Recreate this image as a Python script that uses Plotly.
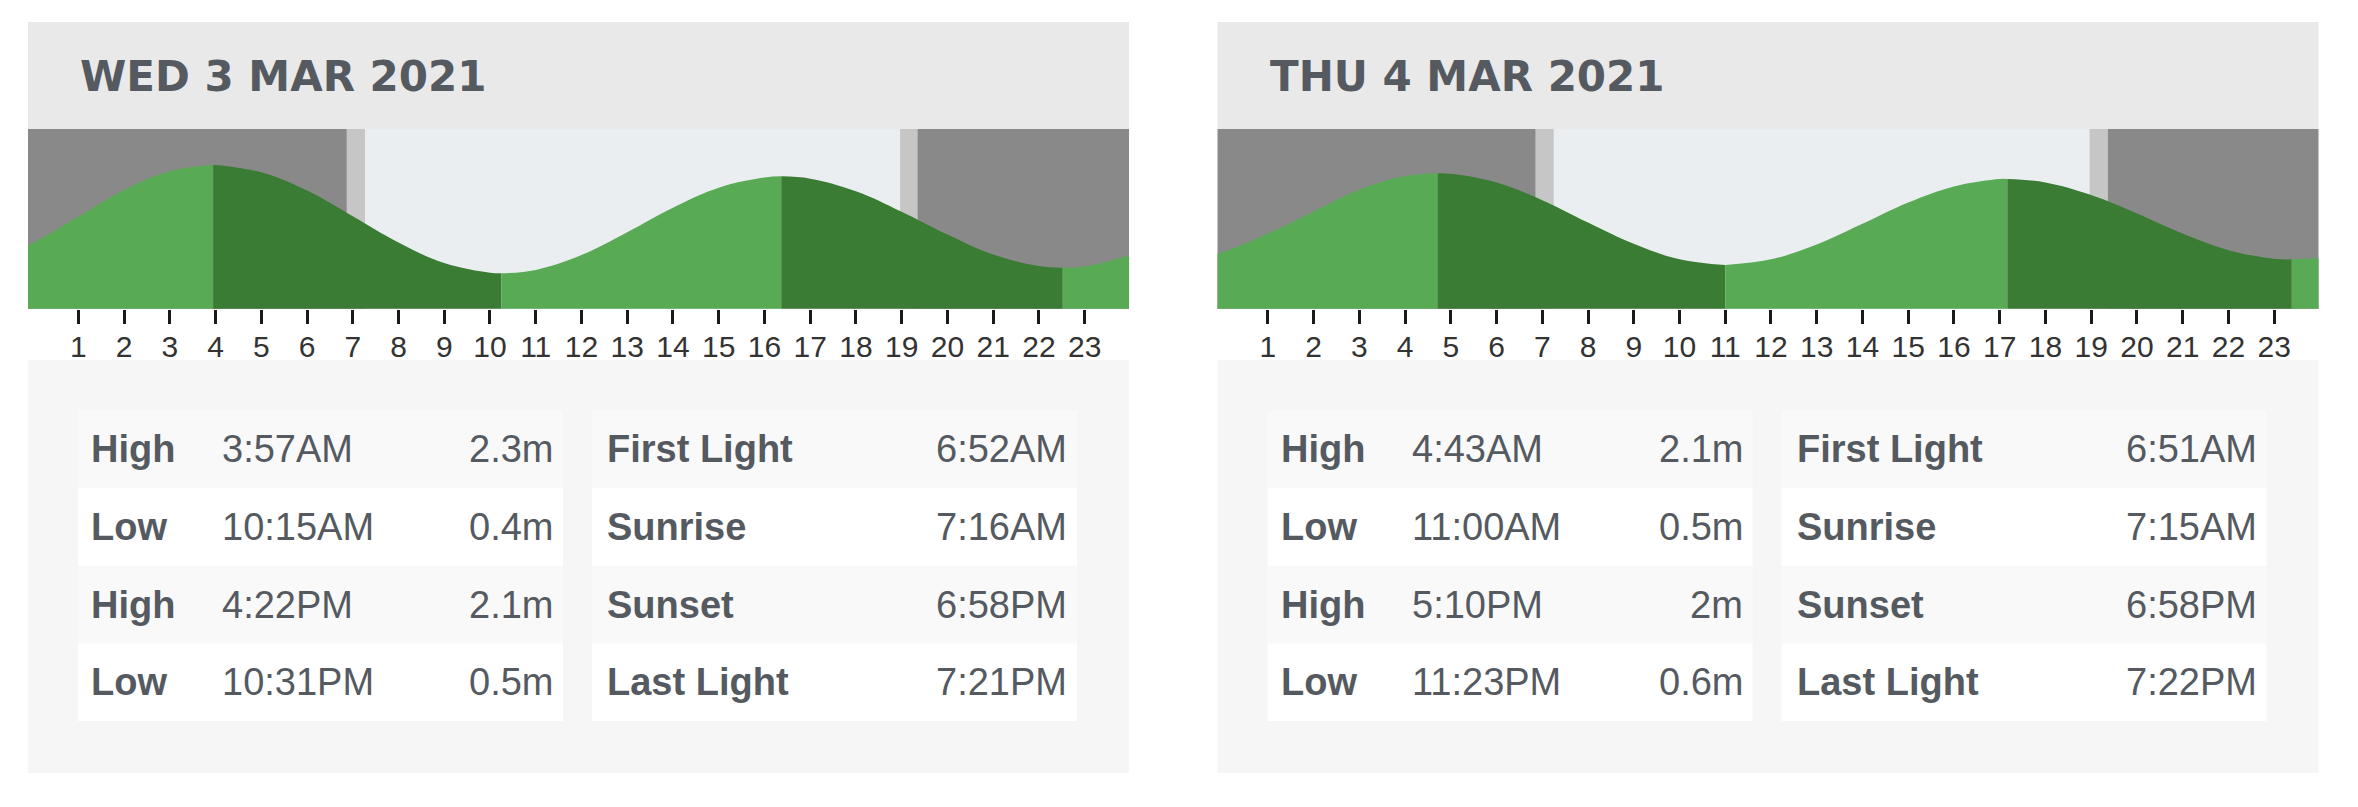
import plotly.graph_objects as go

# ---------------- data ----------------
day_titles = ["WED 3 MAR 2021", "THU 4 MAR 2021"]

tide_types = [["High", "Low", "High", "Low"], ["High", "Low", "High", "Low"]]
tide_times = [["3:57AM", "10:15AM", "4:22PM", "10:31PM"],
              ["4:43AM", "11:00AM", "5:10PM", "11:23PM"]]
tide_heights = [[2.3, 0.4, 2.1, 0.5], [2.1, 0.5, 2.0, 0.6]]
tide_labels = [["2.3m", "0.4m", "2.1m", "0.5m"], ["2.1m", "0.5m", "2m", "0.6m"]]

sun_labels = ["First Light", "Sunrise", "Sunset", "Last Light"]
sun_times = [["6:52AM", "7:16AM", "6:58PM", "7:21PM"],
             ["6:51AM", "7:15AM", "6:58PM", "7:22PM"]]

# tide height (hours from midnight)
curve_hours = [-0.5] + list(range(0, 25))
curve_day1 = [0.74, 0.93, 1.39, 1.86, 2.19, 2.30, 2.17, 1.85, 1.40, 0.94, 0.58, 0.41,
              0.46, 0.72, 1.12, 1.55, 1.90, 2.08, 2.06, 1.84, 1.48, 1.08, 0.73, 0.53,
              0.52, 0.72]
curve_day2 = [0.60, 0.72, 1.05, 1.43, 1.81, 2.05, 2.09, 1.94, 1.63, 1.24, 0.87, 0.60,
              0.50, 0.60, 0.86, 1.22, 1.59, 1.87, 2.00, 1.94, 1.72, 1.40, 1.05, 0.76,
              0.61, 0.62]
curves = [curve_day1, curve_day2]

tick_hours = list(range(1, 24))
tick_text = [str(h) for h in tick_hours]

y_ranges = [[-0.22, 2.93], [-0.26, 2.87]]
x_range = [-0.1, 23.97]

# ---------------- style ----------------
W, H = 2358, 807
card_left = [28, 1217.5]
card_w = 1101
card_top, header_bot, chart_bot, panel_top, card_bot = 22, 129, 308.7, 360, 773
row_edges = [410, 488, 566, 643.5, 721]
table_off = [50, 564]
table_w = 485

C_NIGHT = "#898989"
C_TWI = "#c6c6c6"
C_DAY = "#ebeef0"
C_RISE = "#58aa55"
C_FALL = "#3a7c33"
C_HEAD = "#e9e9e9"
C_PANEL = "#f6f6f6"
C_ROW = "#f9f9f9"
C_TEXT = "#555a61"
FONT = "Liberation Sans, Arial, sans-serif"


def px(x):
    return x / W


def py(y):
    return 1 - y / H


def to_hours(s):
    ampm = s[-2:]
    hh, mm = s[:-2].split(":")
    h = int(hh) % 12
    if ampm == "PM":
        h += 12
    return h + int(mm) / 60.0


fig = go.Figure()
shapes = []
annotations = []

for d in range(2):
    xa = "x" if d == 0 else "x2"
    ya = "y" if d == 0 else "y2"
    cl = card_left[d]
    # card backgrounds
    shapes.append(dict(type="rect", xref="paper", yref="paper", layer="below",
                       x0=px(cl), x1=px(cl + card_w), y0=py(header_bot), y1=py(card_top),
                       fillcolor=C_HEAD, line_width=0))
    shapes.append(dict(type="rect", xref="paper", yref="paper", layer="above",
                       x0=px(cl), x1=px(cl + card_w), y0=py(card_bot), y1=py(panel_top),
                       fillcolor=C_PANEL, line_width=0))
    for t in range(2):
        tl = cl + table_off[t]
        for r in range(4):
            shapes.append(dict(type="rect", xref="paper", yref="paper", layer="above",
                               x0=px(tl), x1=px(tl + table_w),
                               y0=py(row_edges[r + 1]), y1=py(row_edges[r]),
                               fillcolor=(C_ROW if r % 2 == 0 else "#ffffff"), line_width=0))
    # header title
    annotations.append(dict(xref="paper", yref="paper", x=px(cl + 50), y=py(76),
                            xanchor="left", yanchor="middle", showarrow=False,
                            text="<b>" + day_titles[d] + "</b>",
                            font=dict(family="DejaVu Sans, sans-serif", size=42, color=C_TEXT)))
    # table texts
    tl = cl + table_off[0]
    tr = cl + table_off[1]
    for r in range(4):
        yc = py((row_edges[r] + row_edges[r + 1]) / 2)
        annotations.append(dict(xref="paper", yref="paper", x=px(tl + 11), y=yc,
                                xanchor="left", yanchor="middle", showarrow=False,
                                text="<b>" + tide_types[d][r] + "</b>",
                                font=dict(family=FONT, size=38, color=C_TEXT)))
        annotations.append(dict(xref="paper", yref="paper", x=px(tl + 142), y=yc,
                                xanchor="left", yanchor="middle", showarrow=False,
                                text=tide_times[d][r],
                                font=dict(family=FONT, size=38, color=C_TEXT)))
        annotations.append(dict(xref="paper", yref="paper", x=px(tl + table_w - 8), y=yc,
                                xanchor="right", yanchor="middle", showarrow=False,
                                text=tide_labels[d][r],
                                font=dict(family=FONT, size=38, color=C_TEXT)))
        annotations.append(dict(xref="paper", yref="paper", x=px(tr + 13), y=yc,
                                xanchor="left", yanchor="middle", showarrow=False,
                                text="<b>" + sun_labels[r] + "</b>",
                                font=dict(family=FONT, size=38, color=C_TEXT)))
        annotations.append(dict(xref="paper", yref="paper", x=px(tr + table_w - 8), y=yc,
                                xanchor="right", yanchor="middle", showarrow=False,
                                text=sun_times[d][r],
                                font=dict(family=FONT, size=38, color=C_TEXT)))

    # chart background: night, twilight, daylight
    sh = [to_hours(s) for s in sun_times[d]]
    shapes.append(dict(type="rect", xref=xa + " domain", yref=ya + " domain", layer="below",
                       x0=0, x1=1, y0=0, y1=1, fillcolor=C_NIGHT, line_width=0))
    shapes.append(dict(type="rect", xref=xa, yref=ya + " domain", layer="below",
                       x0=sh[0], x1=sh[3], y0=0, y1=1, fillcolor=C_TWI, line_width=0))
    shapes.append(dict(type="rect", xref=xa, yref=ya + " domain", layer="below",
                       x0=sh[1], x1=sh[2], y0=0, y1=1, fillcolor=C_DAY, line_width=0))

    # tide curve split at extremes
    ext_x = [to_hours(s) for s in tide_times[d]]
    ext_y = tide_heights[d]
    pts = [(x, y) for x, y in zip(curve_hours, curves[d])
           if all(abs(x - e) > 0.03 for e in ext_x)]
    pts += list(zip(ext_x, ext_y))
    pts.sort()
    bounds = [curve_hours[0]] + ext_x + [curve_hours[-1]]
    ybase = y_ranges[d][0] - 1
    for i in range(len(bounds) - 1):
        seg = [p for p in pts if bounds[i] - 1e-9 <= p[0] <= bounds[i + 1] + 1e-9]
        sx = [p[0] for p in seg]
        sy = [p[1] for p in seg]
        col = C_RISE if sy[-1] > sy[0] else C_FALL
        fig.add_trace(go.Scatter(x=sx, y=[ybase] * len(sx), mode="lines",
                                 line=dict(width=0, color=col), hoverinfo="skip",
                                 showlegend=False, xaxis=xa, yaxis=ya))
        fig.add_trace(go.Scatter(x=sx, y=sy, mode="lines", fill="tonexty",
                                 fillcolor=col, line=dict(width=0, color=col, shape="spline",
                                                          smoothing=1.1),
                                 hoverinfo="skip", showlegend=False, xaxis=xa, yaxis=ya))

axis_common = dict(showgrid=False, zeroline=False, showline=False, fixedrange=True)
layout_axes = {}
for d in range(2):
    cl = card_left[d]
    xk = "xaxis" if d == 0 else "xaxis2"
    yk = "yaxis" if d == 0 else "yaxis2"
    layout_axes[xk] = dict(domain=[px(cl), px(cl + card_w)], range=x_range,
                           anchor="y" if d == 0 else "y2",
                           tickmode="array", tickvals=tick_hours, ticktext=tick_text,
                           ticks="outside", ticklen=14, tickwidth=3, tickcolor="#1a1a1a",
                           ticklabelstandoff=-3,
                           tickfont=dict(family="Liberation Sans Narrow, Arial Narrow, Liberation Sans, sans-serif",
                                         size=30, color="#333333"),
                           **axis_common)
    layout_axes[yk] = dict(domain=[py(chart_bot), py(header_bot)], range=y_ranges[d],
                           anchor="x" if d == 0 else "x2", visible=False, **axis_common)

fig.update_layout(width=W, height=H, margin=dict(l=0, r=0, t=0, b=0),
                  paper_bgcolor="#ffffff", plot_bgcolor="rgba(0,0,0,0)",
                  shapes=shapes, annotations=annotations, showlegend=False,
                  **layout_axes)

fig.write_html("out.html", config={"displayModeBar": False},
               post_script="document.body.style.margin='0';document.body.style.overflow='hidden';")
